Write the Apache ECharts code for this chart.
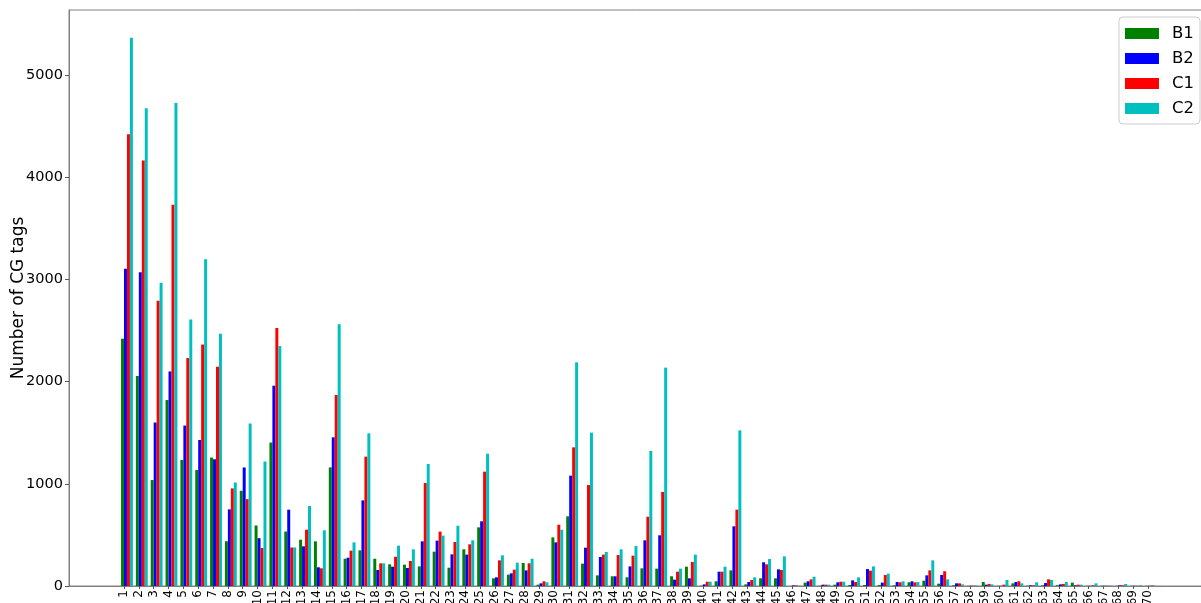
<!DOCTYPE html>
<html><head><meta charset="utf-8">
<script src="https://cdn.jsdelivr.net/npm/echarts@6/dist/echarts.min.js"></script>
<style>html,body{margin:0;padding:0;background:#fff}#c{width:1201px;height:603px}</style>
</head><body><div id="c"></div>
<script>
const categories = [1,2,3,4,5,6,7,8,9,10,11,12,13,14,15,16,17,18,19,20,21,22,23,24,25,26,27,28,29,30,31,32,33,34,35,36,37,38,39,40,41,42,43,44,45,46,47,48,49,50,51,52,53,54,55,56,57,58,59,60,61,62,63,64,65,66,67,68,69,70];
const B1 = [2420,2055,1037,1820,1233,1135,1257,438,932,592,1404,533,453,437,1161,267,349,267,212,209,192,336,179,359,574,75,111,225,13,476,682,219,104,95,85,173,170,95,189,3,46,153,16,75,75,0,33,3,13,10,10,10,7,36,52,23,7,2,39,2,26,3,7,7,33,2,3,2,2,2];
const B2 = [3105,3070,1600,2100,1570,1429,1240,750,1160,468,1960,747,388,183,1455,277,838,157,189,176,437,444,310,307,633,85,124,153,26,427,1080,375,284,95,192,447,496,62,75,16,140,584,39,232,163,6,46,13,36,55,166,33,39,46,104,108,26,3,13,2,39,7,29,16,7,2,2,7,2,2];
const C1 = [4420,4165,2792,3730,2231,2363,2146,955,850,372,2524,377,551,173,1869,346,1266,222,287,245,1008,532,431,408,1119,251,160,222,46,600,1357,988,307,303,297,678,920,140,235,42,140,747,59,212,157,6,65,13,42,39,150,108,36,36,153,144,26,3,20,13,46,7,65,20,13,7,3,7,2,5];
const C2 = [5365,4675,2968,4726,2608,3198,2469,1013,1590,1218,2348,377,783,545,2561,427,1494,222,395,359,1194,493,590,447,1295,300,228,267,36,551,2189,1501,333,359,391,1321,2137,170,307,42,189,1523,85,264,290,3,91,13,42,85,192,121,46,39,251,65,16,3,16,59,26,36,59,39,13,26,3,20,7,2];
const yTicks = [0,1000,2000,3000,4000,5000];
const seriesNames = ['B1','B2','C1','C2'];
const seriesValues = [B1,B2,C1,C2];
const colors = ['#008000','#0000ff','#ff0000','#00bfbf'];
const FONT = 'DejaVu Sans';

const chart = echarts.init(document.getElementById('c'), null, {renderer:'canvas'});
chart.setOption({
  animation: false,
  backgroundColor: '#ffffff',
  grid: {left: 69, right: -15, top: 10, bottom: 17, containLabel: false, outerBoundsMode: 'none',
         show: true, borderColor: '#808080', borderWidth: 1, backgroundColor: 'transparent'},
  legend: {
    orient: 'vertical', right: 1, top: 17,
    itemWidth: 34, itemHeight: 11, itemGap: 8,
    padding: [8, 6, 7, 6],
    borderColor: '#cccccc', borderWidth: 1, borderRadius: 4,
    backgroundColor: 'rgba(255,255,255,0.8)',
    icon: 'rect',
    textStyle: {fontSize: 16.5, color: '#000', fontFamily: FONT, padding: [0,0,0,8]},
    data: seriesNames
  },
  xAxis: {
    type: 'value', min: -2.706, max: 74.585,
    axisLine: {show: true, onZero: false, lineStyle: {color: '#808080', width: 1}},
    axisTick: {show: true, customValues: categories, length: 3, lineStyle: {color: '#555'}},
    axisLabel: {customValues: categories, rotate: 90, fontSize: 12, margin: 4, color: '#000', fontFamily: FONT,
                formatter: v => String(v)},
    splitLine: {show: false}
  },
  yAxis: {
    type: 'value', min: 0, max: 5637,
    name: 'Number of CG tags', nameLocation: 'middle', nameGap: 42, nameMoveOverlap: false,
    nameTextStyle: {fontSize: 17, color: '#000', fontFamily: FONT},
    axisLine: {show: true, onZero: false, lineStyle: {color: '#808080', width: 1}},
    axisTick: {show: true, customValues: yTicks, length: 4, lineStyle: {color: '#555'}},
    axisLabel: {customValues: yTicks, fontSize: 14.5, margin: 6, color: '#000', fontFamily: FONT,
                formatter: v => String(v)},
    splitLine: {show: false}
  },
  series: seriesNames.map((n, k) => ({
    type: 'bar', name: n,
    data: categories.map((c, i) => [c + 0.2, seriesValues[k][i]]),
    barWidth: '20%', barGap: '0%',
    itemStyle: {color: colors[k]}
  }))
});
</script>
</body></html>
